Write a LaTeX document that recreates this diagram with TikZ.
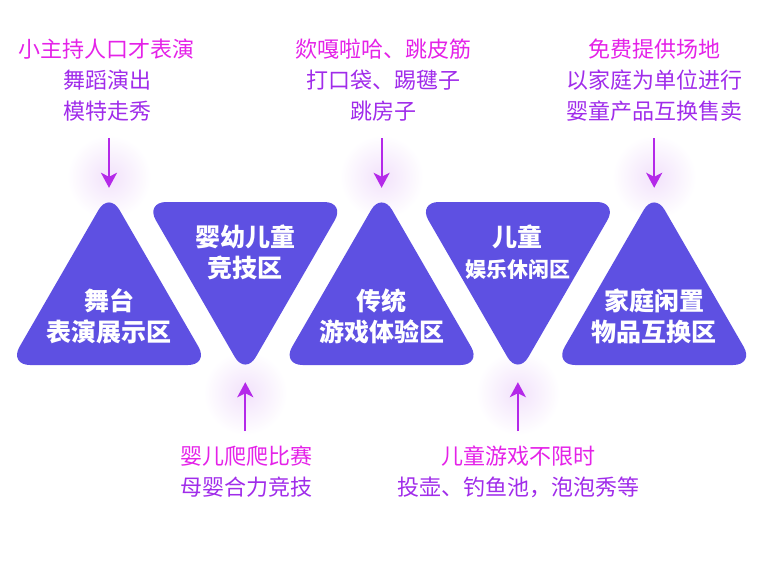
\documentclass[tikz,border=0pt]{standalone}
\usepackage{fontspec}
\setmainfont{Noto Sans CJK SC}
\usetikzlibrary{arrows.meta}
\definecolor{zonefill}{RGB}{94,80,226}
\definecolor{hotpink}{RGB}{228,34,232}
\definecolor{grape}{RGB}{160,44,234}
\definecolor{haze}{RGB}{242,226,251}
\begin{document}
\begin{tikzpicture}[x=1pt,y=-1pt,
		zone/.style={fill=zonefill, rounded corners=21pt},
		title/.style={text=white, font=\fontsize{25}{31}\selectfont\bfseries, align=center},
		note/.style={text=grape, font=\fontsize{22}{31}\selectfont, align=center},
		pointer/.style={-{Stealth[length=15pt,width=16pt,inset=4pt]}, line width=2.2pt, color=grape!70!hotpink}]
		\useasboundingbox (0,0) rectangle (766,570);
		
		\foreach \x/\y in {109/177, 245.3/393, 381.6/177, 517.9/393, 654.2/177}
		\shade[inner color=haze, outer color=white] (\x,\y) circle (42);
		
		\coordinate (A1) at (109,191.8);
		\coordinate (A2) at (245.3,375.2);
		\coordinate (A3) at (381.6,191.8);
		\coordinate (A4) at (517.9,375.2);
		\coordinate (A5) at (654.2,191.8);
		
		\fill[zone] (9,365) -- (A1) -- (209,365) -- cycle;
		\fill[zone] (145.3,202) -- (345.3,202) -- (A2) -- cycle;
		\fill[zone] (281.6,365) -- (A3) -- (481.6,365) -- cycle;
		\fill[zone] (417.9,202) -- (617.9,202) -- (A4) -- cycle;
		\fill[zone] (554.2,365) -- (A5) -- (754.2,365) -- cycle;
		
		\node[title] (Z1) at (109,316.5) {舞台\\表演展示区};
		\node[title] (Z2) at (245.3,252.5) {婴幼儿童\\竞技区};
		\node[title] (Z3) at (381.6,316.5) {传统\\游戏体验区};
		\node[title] (Z4) at (517.9,252.5) {儿童\\{\fontsize{21}{31}\selectfont 娱乐休闲区}};
		\node[title] (Z5) at (654.2,316.5) {家庭闲置\\物品互换区};
		
		\node[note] (N1) at (107,80) {\textcolor{hotpink}{小主持人口才表演}\\舞蹈演出\\模特走秀};
		\node[note] (N2) at (246,471.5) {\textcolor{hotpink}{婴儿爬爬比赛}\\母婴合力竞技};
		\node[note] (N3) at (383,80) {\textcolor{hotpink}{欻嘎啦哈、跳皮筋}\\打口袋、踢毽子\\跳房子};
		\node[note] (N4) at (518,471.5) {\textcolor{hotpink}{儿童游戏不限时}\\投壶、钓鱼池，泡泡秀等};
		\node[note] (N5) at (654,80) {\textcolor{hotpink}{免费提供场地}\\以家庭为单位进行\\婴童产品互换售卖};
		
		\coordinate (T1) at (109,138);
		\coordinate (T2) at (245.3,431);
		\coordinate (T3) at (381.6,138);
		\coordinate (T4) at (517.9,431);
		\coordinate (T5) at (654.2,138);
		
		\draw[pointer, shorten >=4pt] (T1) -- (A1);
		\draw[pointer, shorten >=7pt] (T2) -- (A2);
		\draw[pointer, shorten >=4pt] (T3) -- (A3);
		\draw[pointer, shorten >=7pt] (T4) -- (A4);
		\draw[pointer, shorten >=4pt] (T5) -- (A5);
\end{tikzpicture}
\end{document}
